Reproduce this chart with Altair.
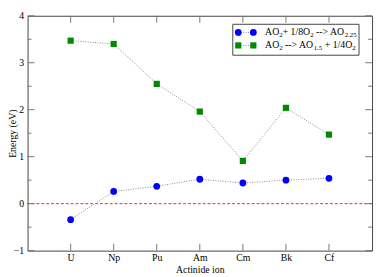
import altair as alt
import pandas as pd

# ---- data ----
actinides = ["U", "Np", "Pu", "Am", "Cm", "Bk", "Cf"]
oxidation = [-0.34, 0.26, 0.37, 0.52, 0.44, 0.50, 0.54]   # AO2 + 1/8 O2 --> AO2.25
reduction = [3.47, 3.40, 2.55, 1.96, 0.91, 2.04, 1.47]    # AO2 --> AO1.5 + 1/4 O2
y_major = [-1, 0, 1, 2, 3, 4]
y_minor = [-0.5, 0.5, 1.5, 2.5, 3.5]

df_ox = pd.DataFrame({"ion": actinides, "energy": oxidation})
df_red = pd.DataFrame({"ion": actinides, "energy": reduction})

W, H = 352, 240
FONT = "Liberation Serif"

xs = alt.Scale(domain=actinides, type="point", padding=1)
ys = alt.Scale(domain=[-1, 4], nice=False, zero=False)

X = alt.X("ion:N", scale=xs,
          axis=alt.Axis(title="Actinide ion", labelAngle=0, ticks=False, domain=False,
                        grid=False, labelPadding=2, titlePadding=2))
Y = alt.Y("energy:Q", scale=ys,
          axis=alt.Axis(title="Energy (eV)", values=y_major, ticks=False, domain=False,
                        grid=False, labelPadding=4, titleX=-10))

# zero reference line
zero = alt.Chart(pd.DataFrame({"energy": [0]})).mark_rule(
    color="#ff2020", strokeDash=[3, 2], strokeWidth=1
).encode(y=alt.Y("energy:Q", scale=ys))

line_style = dict(color="#8a8a8a", strokeDash=[1, 1.5], strokeWidth=1)
ox_line = alt.Chart(df_ox).mark_line(**line_style).encode(x=X, y=Y)
red_line = alt.Chart(df_red).mark_line(**line_style).encode(x=X, y=Y)
ox_pts = alt.Chart(df_ox).mark_circle(size=48, color="#0000ff", opacity=1).encode(x=X, y=Y)
red_pts = alt.Chart(df_red).mark_square(size=40, color="#008a00", opacity=1).encode(x=X, y=Y)

# inward ticks
tick_col = "#777777"
df_ymaj = pd.DataFrame({"energy": y_major})
df_ymin = pd.DataFrame({"energy": y_minor})
df_x = pd.DataFrame({"ion": actinides})
ticks = []
for d, ln in [(df_ymaj, 7), (df_ymin, 4)]:
    ticks.append(alt.Chart(d).mark_rule(color=tick_col, strokeWidth=1).encode(
        x=alt.value(0), x2=alt.value(ln), y=alt.Y("energy:Q", scale=ys)))
    ticks.append(alt.Chart(d).mark_rule(color=tick_col, strokeWidth=1).encode(
        x=alt.value(W - ln), x2=alt.value(W), y=alt.Y("energy:Q", scale=ys)))
ticks.append(alt.Chart(df_x).mark_rule(color=tick_col, strokeWidth=1).encode(
    x=alt.X("ion:N", scale=xs), y=alt.value(H - 7), y2=alt.value(H)))
ticks.append(alt.Chart(df_x).mark_rule(color=tick_col, strokeWidth=1).encode(
    x=alt.X("ion:N", scale=xs), y=alt.value(0), y2=alt.value(7)))

# ---- custom legend ----
one = alt.Data(values=[{}])
bx0, bx1, by0, by1 = 209.7, 338.7, 8.7, 40.3
legend = [alt.Chart(one).mark_rect(fill="white", stroke="#444444", strokeWidth=1).encode(
    x=alt.value(bx0), x2=alt.value(bx1), y=alt.value(by0), y2=alt.value(by1))]
sx0, sx1 = 215.3, 230.7
rows = [17.0, 30.3]
legend.append(alt.Chart(one).mark_rule(**line_style).encode(
    x=alt.value(sx0), x2=alt.value(sx1), y=alt.value(rows[0])))
legend.append(alt.Chart(one).mark_rule(**line_style).encode(
    x=alt.value(sx0), x2=alt.value(sx1), y=alt.value(rows[1])))
for sx in (sx0, sx1):
    legend.append(alt.Chart(one).mark_circle(size=48, color="#0000ff", opacity=1).encode(
        x=alt.value(sx), y=alt.value(rows[0])))
    legend.append(alt.Chart(one).mark_square(size=40, color="#008a00", opacity=1).encode(
        x=alt.value(sx), y=alt.value(rows[1])))

# Times-metric widths (em) for layout of subscripted labels
em = {"A": .722, "O": .722, "2": .5, "+": .564, " ": .25, "1": .5, "/": .278, "8": .5,
      "-": .333, ">": .564, ".": .25, "5": .5, "4": .5}
MAIN, SUB = 10, 7


def width(s, size):
    return sum(em.get(c, .5) for c in s) * size


row_texts = [
    [("AO", 0), ("2", 1), ("+ 1/8O", 0), ("2", 1), (" --> AO", 0), ("2.25", 1)],
    [("AO", 0), ("2", 1), (" --> AO", 0), ("1.5", 1), (" + 1/4O", 0), ("2", 1)],
]
tx0 = 242.7
for ry, pieces in zip(rows, row_texts):
    cx = tx0
    for s, sub in pieces:
        size = SUB if sub else MAIN
        lead = len(s) - len(s.lstrip(" "))
        cx += width(" " * lead, size)
        txt = s.strip(" ")
        legend.append(alt.Chart(one).mark_text(
            font=FONT, fontSize=size, align="left", baseline="middle", color="black"
        ).encode(x=alt.value(cx), y=alt.value(ry + (3 if sub else 0)), text=alt.value(txt)))
        cx += width(txt, size)

chart = alt.layer(zero, ox_line, red_line, ox_pts, red_pts, *ticks, *legend).properties(
    width=W, height=H,
    autosize=alt.AutoSizeParams(type="none"),
    padding={"left": 20, "top": 5, "right": 2, "bottom": 24},
).configure_view(
    stroke="#444444", strokeWidth=1
).configure_axis(
    labelFont=FONT, titleFont=FONT, labelFontSize=10, titleFontSize=10,
    titleFontWeight="normal", labelColor="black", titleColor="black"
)

chart.save("out.html", embed_options={"renderer": "svg", "actions": False})
